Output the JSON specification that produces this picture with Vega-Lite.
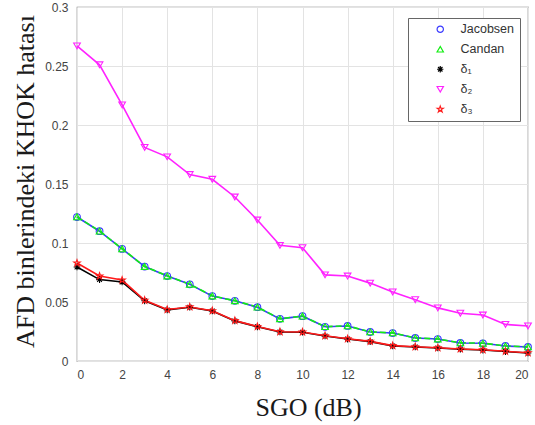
{
  "$schema": "https://vega.github.io/schema/vega-lite/v6.json",
  "width": 451,
  "height": 354,
  "autosize": {"type": "none"},
  "padding": {"left": 77, "top": 7, "right": 7, "bottom": 64},
  "config": {
    "view": {"stroke": "#7f7f7f", "strokeWidth": 1.2},
    "font": "Liberation Sans"
  },
  "datasets": {
    "d": [
      {"x":0,"s":"Jacobsen","y":0.122},{"x":1,"s":"Jacobsen","y":0.110},{"x":2,"s":"Jacobsen","y":0.095},{"x":3,"s":"Jacobsen","y":0.080},{"x":4,"s":"Jacobsen","y":0.072},{"x":5,"s":"Jacobsen","y":0.065},{"x":6,"s":"Jacobsen","y":0.055},{"x":7,"s":"Jacobsen","y":0.051},{"x":8,"s":"Jacobsen","y":0.0456},{"x":9,"s":"Jacobsen","y":0.0357},{"x":10,"s":"Jacobsen","y":0.038},{"x":11,"s":"Jacobsen","y":0.029},{"x":12,"s":"Jacobsen","y":0.0297},{"x":13,"s":"Jacobsen","y":0.0246},{"x":14,"s":"Jacobsen","y":0.0237},{"x":15,"s":"Jacobsen","y":0.0195},{"x":16,"s":"Jacobsen","y":0.0186},{"x":17,"s":"Jacobsen","y":0.0153},{"x":18,"s":"Jacobsen","y":0.015},{"x":19,"s":"Jacobsen","y":0.0127},{"x":20,"s":"Jacobsen","y":0.0119},
      {"x":0,"s":"Candan","y":0.1222},{"x":1,"s":"Candan","y":0.1101},{"x":2,"s":"Candan","y":0.0951},{"x":3,"s":"Candan","y":0.0801},{"x":4,"s":"Candan","y":0.0721},{"x":5,"s":"Candan","y":0.0651},{"x":6,"s":"Candan","y":0.0551},{"x":7,"s":"Candan","y":0.0511},{"x":8,"s":"Candan","y":0.0457},{"x":9,"s":"Candan","y":0.0358},{"x":10,"s":"Candan","y":0.0381},{"x":11,"s":"Candan","y":0.0291},{"x":12,"s":"Candan","y":0.0298},{"x":13,"s":"Candan","y":0.0247},{"x":14,"s":"Candan","y":0.0238},{"x":15,"s":"Candan","y":0.0196},{"x":16,"s":"Candan","y":0.0187},{"x":17,"s":"Candan","y":0.0154},{"x":18,"s":"Candan","y":0.0151},{"x":19,"s":"Candan","y":0.0128},{"x":20,"s":"Candan","y":0.012},
      {"x":0,"s":"δ₁","y":0.0797},{"x":1,"s":"δ₁","y":0.069},{"x":2,"s":"δ₁","y":0.067},{"x":3,"s":"δ₁","y":0.051},{"x":4,"s":"δ₁","y":0.0433},{"x":5,"s":"δ₁","y":0.0456},{"x":6,"s":"δ₁","y":0.0424},{"x":7,"s":"δ₁","y":0.034},{"x":8,"s":"δ₁","y":0.029},{"x":9,"s":"δ₁","y":0.0246},{"x":10,"s":"δ₁","y":0.0244},{"x":11,"s":"δ₁","y":0.0212},{"x":12,"s":"δ₁","y":0.0186},{"x":13,"s":"δ₁","y":0.0164},{"x":14,"s":"δ₁","y":0.0127},{"x":15,"s":"δ₁","y":0.0119},{"x":16,"s":"δ₁","y":0.011},{"x":17,"s":"δ₁","y":0.0100},{"x":18,"s":"δ₁","y":0.0093},{"x":19,"s":"δ₁","y":0.0080},{"x":20,"s":"δ₁","y":0.0068},
      {"x":0,"s":"δ₂","y":0.267},{"x":1,"s":"δ₂","y":0.251},{"x":2,"s":"δ₂","y":0.217},{"x":3,"s":"δ₂","y":0.181},{"x":4,"s":"δ₂","y":0.173},{"x":5,"s":"δ₂","y":0.158},{"x":6,"s":"δ₂","y":0.154},{"x":7,"s":"δ₂","y":0.139},{"x":8,"s":"δ₂","y":0.1195},{"x":9,"s":"δ₂","y":0.098},{"x":10,"s":"δ₂","y":0.096},{"x":11,"s":"δ₂","y":0.073},{"x":12,"s":"δ₂","y":0.072},{"x":13,"s":"δ₂","y":0.066},{"x":14,"s":"δ₂","y":0.0585},{"x":15,"s":"δ₂","y":0.052},{"x":16,"s":"δ₂","y":0.045},{"x":17,"s":"δ₂","y":0.0405},{"x":18,"s":"δ₂","y":0.039},{"x":19,"s":"δ₂","y":0.031},{"x":20,"s":"δ₂","y":0.0297},
      {"x":0,"s":"δ₃","y":0.083},{"x":1,"s":"δ₃","y":0.072},{"x":2,"s":"δ₃","y":0.0686},{"x":3,"s":"δ₃","y":0.0515},{"x":4,"s":"δ₃","y":0.0436},{"x":5,"s":"δ₃","y":0.0458},{"x":6,"s":"δ₃","y":0.0426},{"x":7,"s":"δ₃","y":0.0342},{"x":8,"s":"δ₃","y":0.0292},{"x":9,"s":"δ₃","y":0.0248},{"x":10,"s":"δ₃","y":0.0246},{"x":11,"s":"δ₃","y":0.0214},{"x":12,"s":"δ₃","y":0.0188},{"x":13,"s":"δ₃","y":0.0166},{"x":14,"s":"δ₃","y":0.013},{"x":15,"s":"δ₃","y":0.0121},{"x":16,"s":"δ₃","y":0.0112},{"x":17,"s":"δ₃","y":0.0102},{"x":18,"s":"δ₃","y":0.0095},{"x":19,"s":"δ₃","y":0.0082},{"x":20,"s":"δ₃","y":0.007}
    ]
  },
  "data": {"name": "d"},
  "encoding": {
    "x": {
      "field": "x", "type": "quantitative",
      "scale": {"domain": [0, 20], "nice": false, "zero": false},
      "axis": {
        "values": [0,2,4,6,8,10,12,14,16,18,20],
        "format": "d",
        "title": "SGO (dB)",
        "titleFont": "Liberation Serif", "titleFontSize": 26, "titleFontWeight": "normal", "titleColor": "#1a1a1a",
        "titleX": 231, "titleY": 54, "titleBaseline": "alphabetic",
        "labelFontSize": 12, "labelColor": "#444", "labelPadding": 8,
        "ticks": false, "domain": false,
        "grid": true, "gridColor": "#e3e3e3", "gridWidth": 1
      }
    },
    "y": {
      "field": "y", "type": "quantitative",
      "scale": {"domain": [0, 0.3], "nice": false},
      "axis": {
        "values": [0,0.05,0.1,0.15,0.2,0.25,0.3],
        "format": "~g",
        "title": "AFD binlerindeki KHOK hatası",
        "titleFont": "Liberation Serif", "titleFontSize": 26, "titleFontWeight": "normal", "titleColor": "#1a1a1a",
        "titleX": -44, "titleY": 174, "titleBaseline": "alphabetic", "titleAlign": "center", "titleAngle": -90,
        "labelFontSize": 12, "labelColor": "#444", "labelPadding": 9,
        "ticks": false, "domain": false,
        "grid": true, "gridColor": "#e3e3e3", "gridWidth": 1
      }
    },
    "color": {"field": "s", "type": "nominal",
      "scale": {"domain": ["Jacobsen","Candan","δ₁","δ₂","δ₃"], "range": ["#3a3aff","#11ee11","#000000","#ff22ff","#ff1a1a"]},
      "legend": {
        "title": null, "orient": "none", "legendX": 331, "legendY": 11,
        "strokeColor": "#666", "fillColor": "white", "padding": 5,
        "labelFont": "Liberation Sans", "labelFontSize": 12.5, "labelColor": "#333",
        "symbolStrokeWidth": 1.2, "symbolSize": 40, "rowPadding": 7, "symbolOffset": 21, "labelOffset": 14,
        "symbolFillColor": "transparent"
      }}
  },
  "layer": [
    {
      "transform": [{"filter": "datum.s !== 'Candan'"}],
      "mark": {"type": "line", "strokeWidth": 1.6}
    },
    {
      "transform": [{"filter": "datum.s === 'Candan'"}],
      "mark": {"type": "line", "strokeWidth": 1.6, "strokeDash": [6, 3]}
    },
    {
      "mark": {"type": "point", "filled": false, "strokeWidth": 1.1, "size": 45, "opacity": 1},
      "encoding": {
        "shape": {"field": "s", "type": "nominal",
          "scale": {"domain": ["Jacobsen","Candan","δ₁","δ₂","δ₃"],
            "range": ["circle","triangle-up","M0,-1L0,1M-1,0L1,0M-0.7,-0.7L0.7,0.7M-0.7,0.7L0.7,-0.7","triangle-down","M0,-1L0.2245,-0.309L0.951,-0.309L0.363,0.118L0.588,0.809L0,0.382L-0.588,0.809L-0.363,0.118L-0.951,-0.309L-0.2245,-0.309Z"]},
          "legend": {
            "title": null, "orient": "none", "legendX": 331, "legendY": 11,
            "strokeColor": "#666", "fillColor": "white", "padding": 5,
            "labelFont": "Liberation Sans", "labelFontSize": 12.5, "labelColor": "#333",
            "symbolStrokeWidth": 1.2, "symbolSize": 40, "rowPadding": 7, "symbolOffset": 21, "labelOffset": 14,
            "symbolFillColor": "transparent"
          }}
      }
    }
  ]
}
